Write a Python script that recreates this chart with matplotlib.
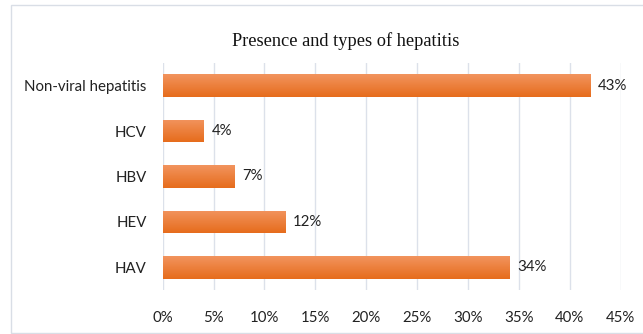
#!/usr/bin/env python3
"""Presence and types of hepatitis - horizontal bar chart."""

import numpy as np
import matplotlib
matplotlib.use('Agg')
import matplotlib.pyplot as plt
from matplotlib.patches import Rectangle

categories = ['HAV', 'HEV', 'HBV', 'HCV', 'Non-viral hepatitis']
values = [34, 12, 7, 4, 42]
value_labels = ['34%', '12%', '7%', '4%', '43%']
xticks = [0, 5, 10, 15, 20, 25, 30, 35, 40, 45]
title = 'Presence and types of hepatitis'

LABEL_FONT = ['Lato', 'DejaVu Sans']
FS = 10.8
TOP_COLOR = np.array([0xF2, 0x94, 0x5E]) / 255
BOTTOM_COLOR = np.array([0xE6, 0x6C, 0x1C]) / 255


def main():
    fig = plt.figure(figsize=(6.43, 3.34), dpi=100)
    ax = fig.add_axes([162.7 / 643, 1 - 290 / 334, (620.7 - 162.7) / 643, (290 - 63) / 334])

    # chart frame (right edge runs off the image)
    fig.add_artist(Rectangle((11 / 643, 1.5 / 334), 640 / 643, 327.5 / 334,
                             transform=fig.transFigure, fill=False,
                             edgecolor='#D9DEE6', linewidth=1))

    y = np.arange(len(categories))
    bars = ax.barh(y, values, height=0.5, color='#EE7A2E', zorder=2)

    # vertical gradient on each bar (light top, darker bottom)
    grad = np.linspace(0, 1, 64)[:, None, None]
    img = TOP_COLOR * (1 - grad) + BOTTOM_COLOR * grad
    for b in bars:
        x0, y0 = b.get_x(), b.get_y()
        w, h = b.get_width(), b.get_height()
        im = ax.imshow(img, extent=(x0, x0 + w, y0, y0 + h), origin='upper',
                       aspect='auto', zorder=3)
        im.set_clip_path(b)

    for b, lab in zip(bars, value_labels):
        ax.text(b.get_width() + 0.8, b.get_y() + b.get_height() / 2, lab,
                va='center', ha='left', fontsize=FS, color='#222222',
                family=LABEL_FONT, zorder=4)

    ax.set_xlim(0, 45)
    ax.set_ylim(-0.5, len(categories) - 0.5)
    ax.set_xticks(xticks)
    ax.set_xticklabels([f'{t}%' for t in xticks], family=LABEL_FONT,
                       fontsize=FS, color='#222222')
    ax.set_yticks(y)
    ax.set_yticklabels(categories, family=LABEL_FONT, fontsize=FS,
                       color='#222222')
    ax.tick_params(length=0)
    ax.tick_params(axis='x', pad=15)
    ax.tick_params(axis='y', pad=11.5)
    for s in ax.spines.values():
        s.set_visible(False)
    ax.grid(axis='x', color='#DCE1EA', linewidth=1, zorder=0)
    ax.set_axisbelow(True)

    fig.text(345.5 / 643, 1 - 46 / 334, title,
             ha='center', va='baseline', fontsize=13.2,
             family=['Liberation Serif', 'DejaVu Serif'], color='#111111')

    fig.savefig('out.png', dpi=100)


if __name__ == '__main__':
    main()
